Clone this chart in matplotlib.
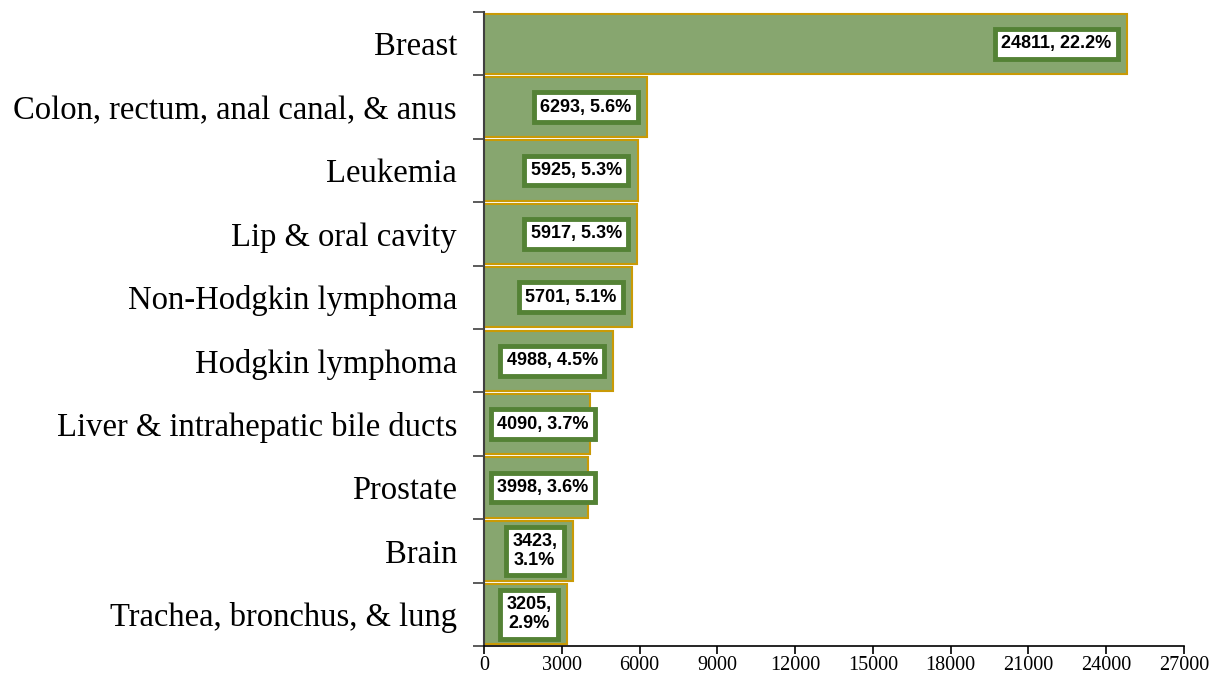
import numpy as np
import matplotlib
matplotlib.use("Agg")
import matplotlib.pyplot as plt

# kategoriler ve degerler (yukaridan asagiya)
kategoriler = ["Breast", "Colon, rectum, anal canal, & anus", "Leukemia",
               "Lip & oral cavity", "Non-Hodgkin lymphoma", "Hodgkin lymphoma",
               "Liver & intrahepatic bile ducts", "Prostate", "Brain",
               "Trachea, bronchus, & lung"]
vakalar = [24811, 6293, 5925, 5917, 5701, 4988, 4090, 3998, 3423, 3205]
yuzdeler = [22.2, 5.6, 5.3, 5.3, 5.1, 4.5, 3.7, 3.6, 3.1, 2.9]
iki_satir = [False] * 8 + [True, True]
x_ticks = list(range(0, 27001, 3000))

fig = plt.figure(figsize=(12.17, 6.85), dpi=100)
ax = fig.add_axes([484 / 1217, 1 - 646 / 685, 700 / 1217, 634 / 685])

n = len(kategoriler)
y = np.arange(n)[::-1]
ax.barh(y, vakalar, height=0.95, color="#87A66F", edgecolor="#C99A06", linewidth=1.5)

ax.set_xlim(0, 27000)
ax.set_ylim(-0.5, n - 0.5)
ax.set_xticks(x_ticks)
ax.set_xticklabels([str(t) for t in x_ticks], fontfamily="Liberation Serif", fontsize=14.5)

# y ekseni: cizgiler kategori sinirlarinda, etiketler ortada
ax.set_yticks(np.arange(-0.5, n, 1.0))
ax.set_yticklabels([])
ax.set_yticks(y, minor=True)
ax.set_yticklabels(kategoriler, minor=True, fontfamily="Liberation Serif", fontsize=23.5)
ax.tick_params(axis="y", which="minor", length=0, pad=19.5)
ax.tick_params(axis="y", which="major", length=8, width=1.2, color="#404040")
ax.tick_params(axis="x", length=6, width=1.2, pad=1.5)

for s in ["top", "right"]:
    ax.spines[s].set_visible(False)
ax.spines["left"].set_color("#404040")
ax.spines["left"].set_linewidth(1.5)
ax.spines["bottom"].set_linewidth(1.2)

# veri etiketleri
kutu = dict(boxstyle="square,pad=0.35", fc="white", ec="#548235", lw=3.5)
for yi, v, p, iki in zip(y, vakalar, yuzdeler, iki_satir):
    metin = f"{v},\n{p}%" if iki else f"{v}, {p}%"
    if not iki and v < 4600:
        ax.text(500, yi, metin, ha="left", va="center", fontsize=13,
                fontweight="bold", fontfamily="Liberation Sans", bbox=kutu)
    else:
        ax.text(v - 600, yi, metin, ha="right", va="center", fontsize=13,
                fontweight="bold", fontfamily="Liberation Sans", linespacing=1.15,
                multialignment="center", bbox=kutu)

plt.savefig("out.png", dpi=100)
